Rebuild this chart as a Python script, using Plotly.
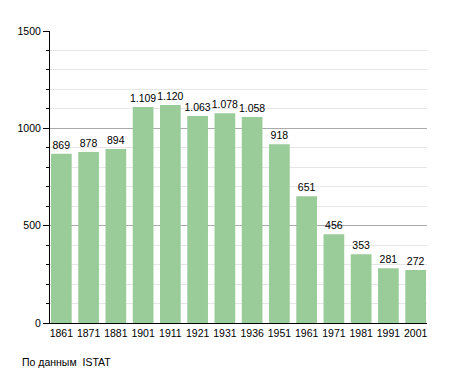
import plotly.graph_objects as go

years = ["1861", "1871", "1881", "1901", "1911", "1921", "1931", "1936", "1951", "1961", "1971", "1981", "1991", "2001"]
population = [869, 878, 894, 1109, 1120, 1063, 1078, 1058, 918, 651, 456, 353, 281, 272]
labels = [f"{v:,}".replace(",", ".") for v in population]

FONT = "Liberation Sans, Arial"
fig = go.Figure(go.Bar(
    x=years, y=population, text=labels, textposition="outside",
    marker=dict(color="#99cc99", line=dict(width=0)),
    textfont=dict(family=FONT, size=10.5, color="black"),
    cliponaxis=False, constraintext="none",
))
fig.update_layout(
    width=447, height=365,
    margin=dict(l=42, r=28, t=23, b=50, autoexpand=False),
    plot_bgcolor="white", paper_bgcolor="white",
    bargap=0.24, showlegend=False,
    font=dict(family=FONT, size=10.5, color="black"),
    annotations=[dict(text="По данным  ISTAT", xref="paper", yref="paper",
                      x=0, y=0, xshift=-30, yshift=-39, xanchor="left", yanchor="middle",
                      showarrow=False, font=dict(size=10.5))],
)
fig.update_xaxes(range=[-0.4165, 13.4165], showline=True, linecolor="black", linewidth=1,
                 ticks="", showgrid=False, tickfont=dict(size=10.5), automargin=False)
fig.update_yaxes(range=[0, 1500], tickvals=[0, 500, 1000, 1500], showline=True, linecolor="black",
                 linewidth=1, ticks="outside", ticklen=6, tickcolor="black",
                 gridcolor="#aaaaaa", gridwidth=1, zeroline=False, automargin=False,
                 minor=dict(dtick=100, ticks="outside", ticklen=3, tickcolor="black",
                            showgrid=True, gridcolor="#e6e6e6"),
                 tickfont=dict(size=10.5))
fig.write_html("out.html")
